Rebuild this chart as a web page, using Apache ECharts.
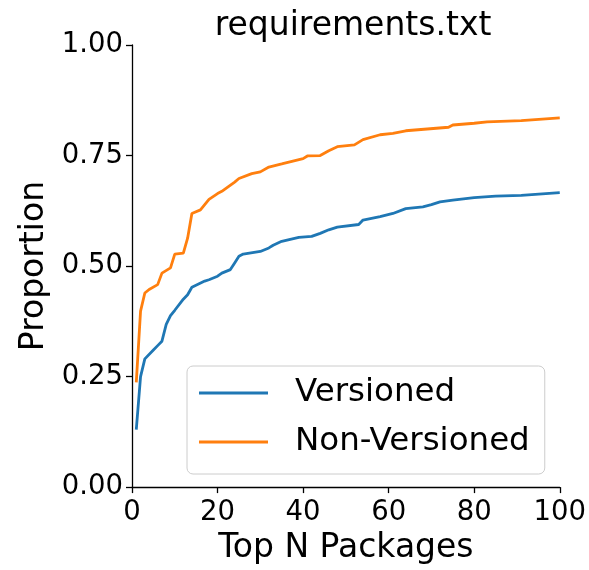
<!DOCTYPE html>
<html>
<head>
<meta charset="utf-8" />
<title>requirements.txt</title>
<script src="https://cdn.jsdelivr.net/npm/echarts@6/dist/echarts.min.js"></script>
<style>
  html, body { margin: 0; padding: 0; background: #fff; }
  #chart { width: 589px; height: 570px; }
</style>
</head>
<body>
<div id="chart"></div>
<script>
// values
var versionedN = [1, 2, 3, 5, 6, 7, 8, 9, 10, 12, 13, 14, 17, 18, 20, 21, 23, 24, 25, 26, 30, 32, 33, 35, 39, 42, 44, 46, 48, 53, 54, 58, 61, 64, 68, 70, 72, 75, 80, 85, 91, 100];
var versionedVals = [0.13, 0.25, 0.29, 0.31, 0.32, 0.33, 0.368, 0.388, 0.40, 0.425, 0.435, 0.452, 0.466, 0.469, 0.477, 0.484, 0.492, 0.507, 0.522, 0.527, 0.533, 0.541, 0.547, 0.556, 0.565, 0.567, 0.574, 0.582, 0.588, 0.594, 0.604, 0.612, 0.619, 0.630, 0.634, 0.639, 0.645, 0.649, 0.655, 0.658, 0.660, 0.666];

var nonVersionedN = [1, 2, 3, 4, 6, 7, 9, 10, 12, 13, 14, 16, 18, 20, 21, 24, 25, 28, 30, 32, 35, 40, 41, 44, 46, 48, 52, 54, 58, 61, 64, 69, 74, 75, 80, 83, 91, 100];
var nonVersionedVals = [0.237, 0.398, 0.439, 0.447, 0.458, 0.484, 0.496, 0.527, 0.529, 0.563, 0.619, 0.627, 0.651, 0.664, 0.669, 0.690, 0.698, 0.709, 0.713, 0.724, 0.731, 0.743, 0.749, 0.750, 0.761, 0.770, 0.774, 0.786, 0.797, 0.800, 0.806, 0.810, 0.814, 0.819, 0.823, 0.826, 0.829, 0.835];

var seriesNames = ['Versioned', 'Non-Versioned'];
var seriesColors = ['#1f77b4', '#ff7f0e'];

function pairs(xs, ys) {
    return xs.map(function (x, i) { return [x, ys[i]]; });
}

var font = 'DejaVu Sans';
var myChart = echarts.init(document.getElementById('chart'), null, { renderer: 'canvas' });

var option = {
    animation: false,
    title: {
        text: 'requirements.txt',
        left: 348,
        textAlign: 'center',
        top: 5,
        textStyle: { fontFamily: font, fontSize: 33, fontWeight: 'normal', color: '#000' }
    },
    grid: { left: 132, right: 25, top: 45, bottom: 79 },
    legend: {
        orient: 'vertical',
        left: 187,
        top: 366,
        data: seriesNames,
        icon: 'rect',
        itemWidth: 69,
        itemHeight: 3,
        itemGap: 11,
        padding: [8, 15, 13, 12],
        borderColor: '#cccccc',
        borderWidth: 1,
        borderRadius: 6,
        backgroundColor: 'rgba(255,255,255,0.8)',
        textStyle: { fontFamily: font, fontSize: 32.5, color: '#000', lineHeight: 38, padding: [0, 0, 0, 22] }
    },
    xAxis: {
        type: 'value',
        min: 0,
        max: 100,
        interval: 20,
        name: 'Top N Packages',
        nameLocation: 'middle',
        nameGap: 42,
        nameTextStyle: { fontFamily: font, fontSize: 33, color: '#000' },
        axisLine: { lineStyle: { color: '#000', width: 1.3 } },
        axisTick: { inside: false, length: 6, lineStyle: { color: '#000', width: 1.3 } },
        axisLabel: { fontFamily: font, fontSize: 27.5, color: '#000', margin: 12 },
        splitLine: { show: false }
    },
    yAxis: {
        type: 'value',
        min: 0,
        max: 1,
        interval: 0.25,
        name: 'Proportion',
        nameLocation: 'middle',
        nameGap: 79,
        nameTextStyle: { fontFamily: font, fontSize: 33, color: '#000' },
        axisLine: { show: true, lineStyle: { color: '#000', width: 1.3 } },
        axisTick: { show: true, inside: false, length: 6, lineStyle: { color: '#000', width: 1.3 } },
        axisLabel: {
            fontFamily: font, fontSize: 27.5, color: '#000', margin: 9,
            formatter: function (v) { return v.toFixed(2); }
        },
        splitLine: { show: false }
    },
    series: [{
        name: seriesNames[0],
        type: 'line',
        symbol: 'none',
        color: seriesColors[0],
        lineStyle: { width: 2.8 },
        data: pairs(versionedN, versionedVals)
    }, {
        name: seriesNames[1],
        type: 'line',
        symbol: 'none',
        color: seriesColors[1],
        lineStyle: { width: 2.8 },
        data: pairs(nonVersionedN, nonVersionedVals)
    }]
};
myChart.setOption(option);
</script>
</body>
</html>
